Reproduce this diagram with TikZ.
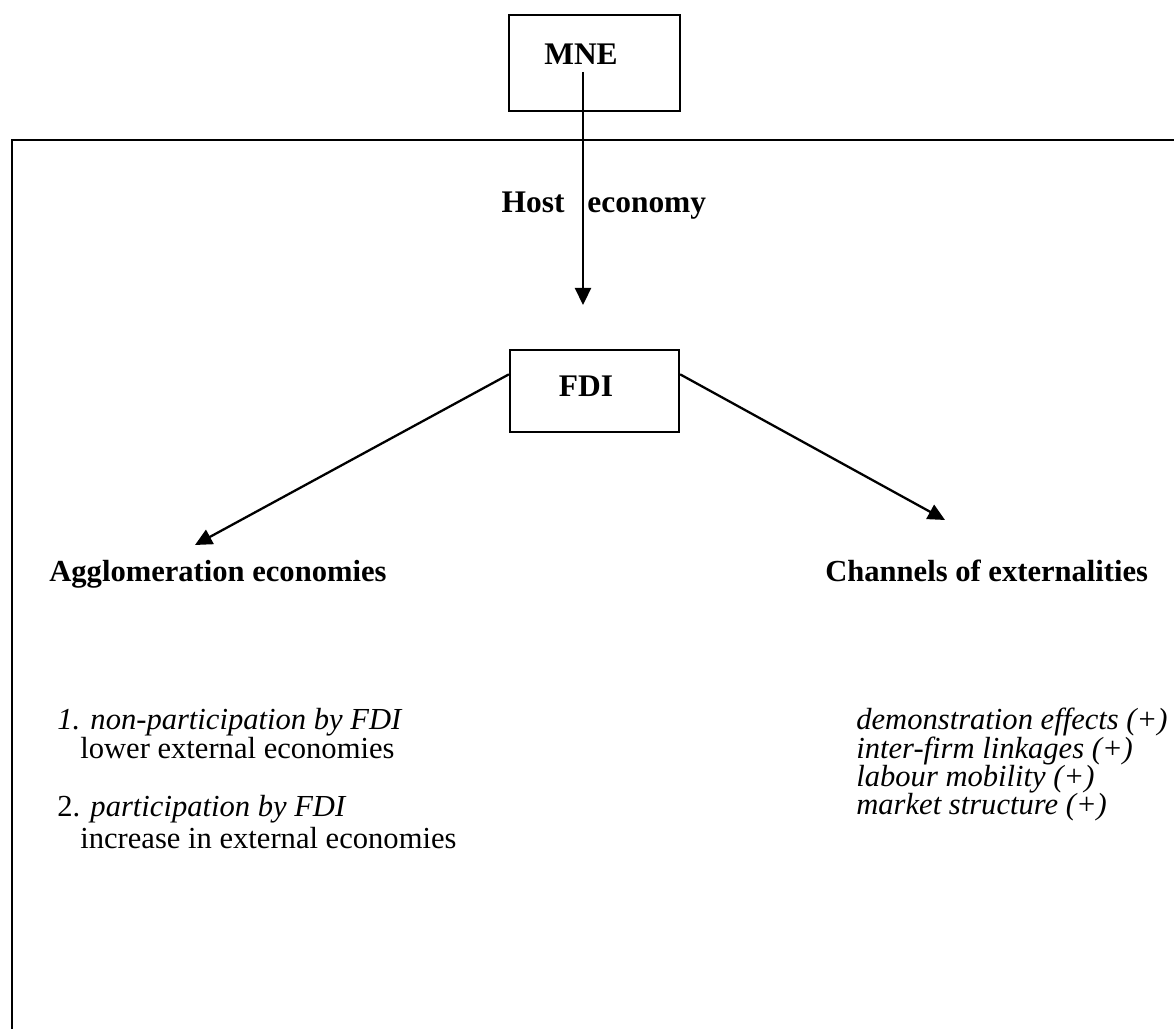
\documentclass[tikz,border=0pt]{standalone}
\usepackage{fontspec}
\setmainfont{Liberation Serif}
\usetikzlibrary{arrows.meta}

\begin{document}
\begin{tikzpicture}[
	frame/.style = {line width = 1.3pt},
	box/.style = {draw, line width = 1.3pt, inner sep = 0pt},
	lbl/.style = {inner sep = 0pt, font = \fontsize{17.4}{21}\selectfont},
	arr/.style = {line width = 1.3pt, -{Triangle[length = 0.34cm, width = 0.32cm]}}
]
	\useasboundingbox (0, 0) rectangle (23.48, 20.58);
	
	\draw[frame] (23.48, 17.78) -- (0.24, 17.78) -- (0.24, 0);
	
	\node[box, minimum width = 3.42cm, minimum height = 1.92cm] (mne) at (11.89, 19.32) {};
	\node[lbl, anchor = base, font = \fontsize{17.9}{21}\selectfont] (mnetext) at (11.62, 19.28) {\textbf{MNE}};
	
	\node[box, minimum width = 3.38cm, minimum height = 1.64cm] (fdi) at (11.89, 12.76) {};
	\node[lbl, anchor = base, font = \fontsize{17.9}{21}\selectfont] (fditext) at (11.72, 12.64) {\textbf{FDI}};
	
	\node[lbl, anchor = base east, font = \fontsize{17.9}{21}\selectfont] (host) at (11.30, 16.32) {\textbf{Host}};
	\node[lbl, anchor = base west, font = \fontsize{17.9}{21}\selectfont] (economy) at (11.74, 16.32) {\textbf{economy}};
	
	\coordinate (mnefoot) at (11.66, 19.14);
	\coordinate (hostend) at (11.66, 14.48);
	\coordinate (agglotip) at (3.90, 9.68);
	\coordinate (chantip) at (18.90, 10.18);
	
	\draw[arr] (mnefoot) -- (hostend);
	\draw[arr] (fdi.169) -- (agglotip);
	\draw[arr] (fdi.11) -- (chantip);
	
	\node[lbl, anchor = base west] (agglo) at (0.98, 8.94) {\textbf{Agglomeration economies}};
	\node[lbl, anchor = base west] (chan) at (16.50, 8.94) {\textbf{Channels of externalities}};
	
	\node[lbl, anchor = base west] (nonpart) at (1.14, 6.00) {\textit{1. non-participation by FDI}};
	\node[lbl, anchor = base west] (lower) at (1.60, 5.42) {lower external economies};
	\node[lbl, anchor = base west] (part) at (1.14, 4.26) {2. \textit{participation by FDI}};
	\node[lbl, anchor = base west] (increase) at (1.60, 3.62) {increase in external economies};
	
	\node[lbl, anchor = base west] (demo) at (17.12, 6.00) {\textit{demonstration effects (+)}};
	\node[lbl, anchor = base west] (linkages) at (17.12, 5.42) {\textit{inter-firm linkages (+)}};
	\node[lbl, anchor = base west] (mobility) at (17.12, 4.86) {\textit{labour mobility (+)}};
	\node[lbl, anchor = base west] (market) at (17.12, 4.30) {\textit{market structure (+)}};
\end{tikzpicture}
\end{document}
